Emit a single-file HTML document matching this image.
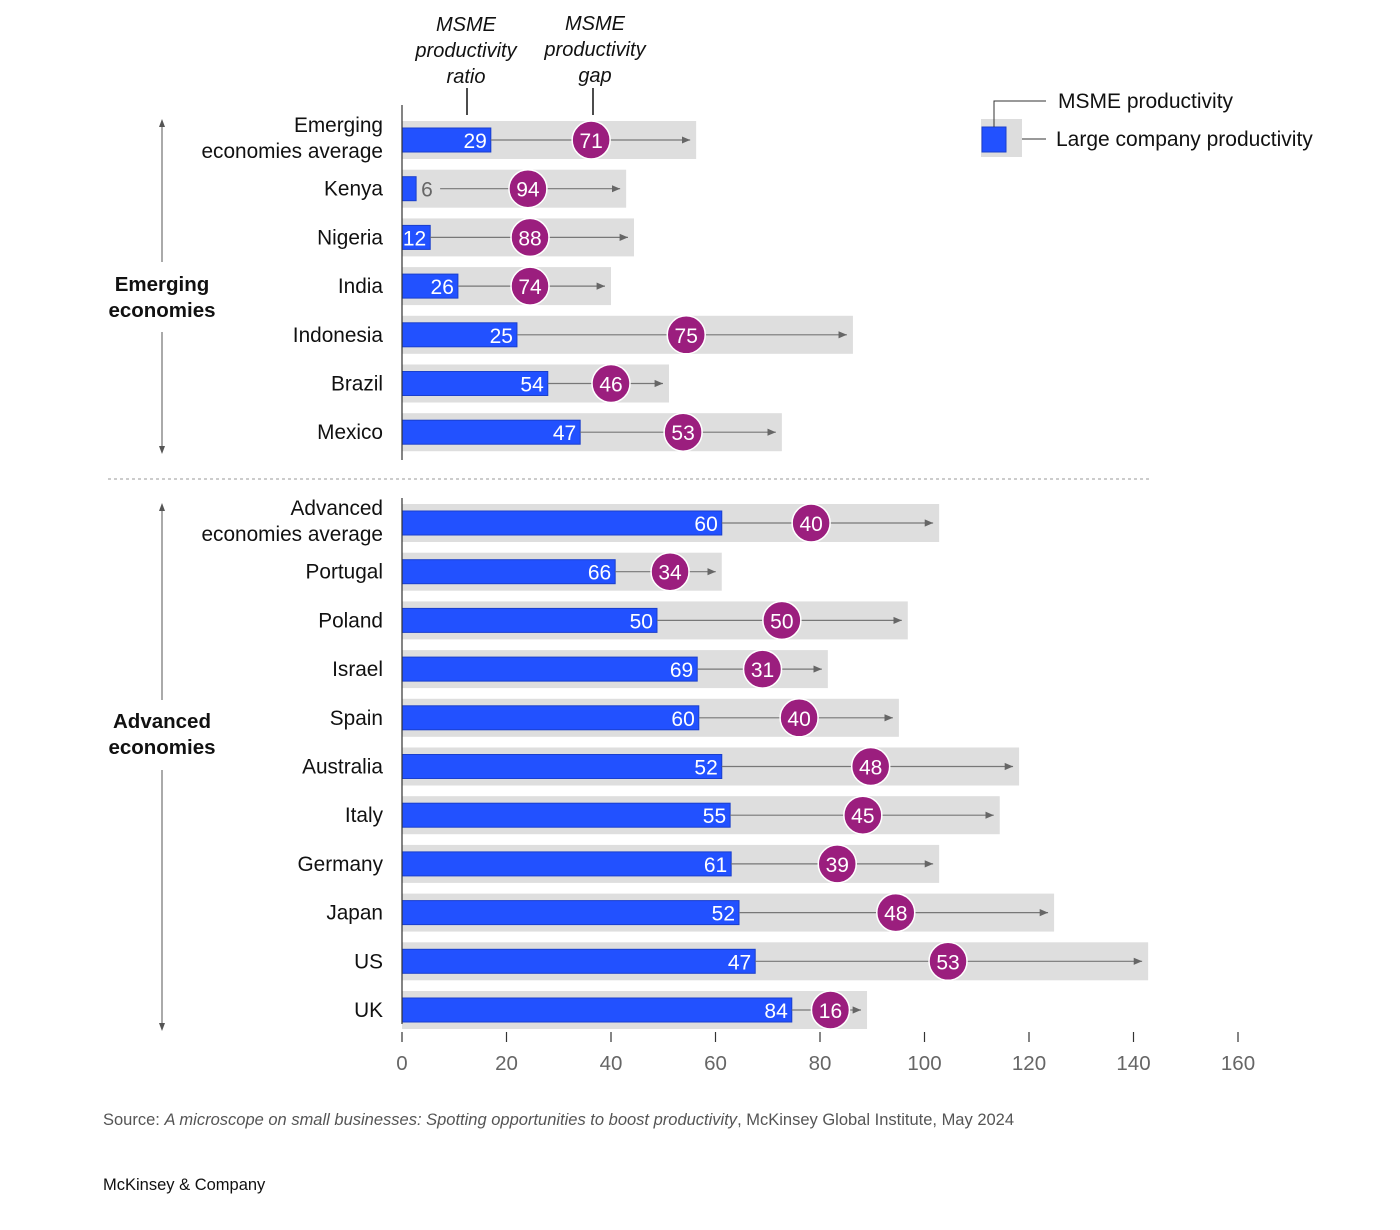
<!DOCTYPE html>
<html><head><meta charset="utf-8">
<style>
body{margin:0;background:#fff;font-family:"Liberation Sans",Arial,sans-serif;}
svg text{font-family:"Liberation Sans",Arial,sans-serif;}
</style></head>
<body>
<svg width="1400" height="1225" viewBox="0 0 1400 1225">
<defs><marker id="ah" markerWidth="8" markerHeight="8" refX="7" refY="4" orient="auto"><path d="M0,1 L7,4 L0,7Z" fill="#666"/></marker>
<marker id="ah2" markerWidth="10" markerHeight="10" refX="5" refY="5" orient="auto"><path d="M0,2 L8,5 L0,8Z" fill="#555"/></marker></defs>
<g id="chart"></g>
<text x="466" y="31" text-anchor="middle" font-size="20" font-style="italic" fill="#111"><tspan x="466">MSME</tspan><tspan x="466" dy="26">productivity</tspan><tspan x="466" dy="26">ratio</tspan></text>
<line x1="467" y1="88" x2="467" y2="115" stroke="#111" stroke-width="1.5"/>
<text x="595" y="30" text-anchor="middle" font-size="20" font-style="italic" fill="#111"><tspan x="595">MSME</tspan><tspan x="595" dy="26">productivity</tspan><tspan x="595" dy="26">gap</tspan></text>
<line x1="593" y1="88" x2="593" y2="115" stroke="#111" stroke-width="1.5"/>
<line x1="108" y1="479" x2="1150" y2="479" stroke="#999" stroke-dasharray="3,3"/>
<g>
<text x="162" y="291" text-anchor="middle" font-size="20.5" font-weight="bold" fill="#111">Emerging</text>
<text x="162" y="317" text-anchor="middle" font-size="20.5" font-weight="bold" fill="#111">economies</text>
<line x1="162" y1="262" x2="162" y2="122" stroke="#555" marker-end="url(#ah2)"/>
<line x1="162" y1="332" x2="162" y2="451" stroke="#555" marker-end="url(#ah2)"/>
</g>
<g>
<text x="162" y="728" text-anchor="middle" font-size="20.5" font-weight="bold" fill="#111">Advanced</text>
<text x="162" y="754" text-anchor="middle" font-size="20.5" font-weight="bold" fill="#111">economies</text>
<line x1="162" y1="700" x2="162" y2="506" stroke="#555" marker-end="url(#ah2)"/>
<line x1="162" y1="770" x2="162" y2="1028" stroke="#555" marker-end="url(#ah2)"/>
</g>
<g>
<rect x="981" y="119" width="41" height="38" fill="#ddd"/>
<rect x="982" y="127" width="24" height="25" fill="#2251ff" stroke="#1a3fcc"/>
<polyline points="994,127 994,101 1046,101" fill="none" stroke="#333"/>
<line x1="1022" y1="139" x2="1046" y2="139" stroke="#333"/>
<text x="1058" y="108" font-size="21" fill="#111">MSME productivity</text>
<text x="1056" y="146" font-size="21" fill="#111">Large company productivity</text>
</g>
<text x="103" y="1125" font-size="16.5" fill="#555">Source: <tspan font-style="italic">A microscope on small businesses: Spotting opportunities to boost productivity</tspan>, McKinsey Global Institute, May 2024</text>
<text x="103" y="1190" font-size="16.5" fill="#111">McKinsey &amp; Company</text>
</svg>
<script>
const countries=["Emerging economies average","Kenya","Nigeria","India","Indonesia","Brazil","Mexico","Advanced economies average","Portugal","Poland","Israel","Spain","Australia","Italy","Germany","Japan","US","UK"];
const largeValues=[56.3,42.9,44.4,40.0,86.3,51.1,72.7,102.8,61.2,96.8,81.5,95.1,118.1,114.4,102.8,124.8,142.8,89.0];
const msmeValues=[17.0,2.7,5.4,10.7,22.0,27.9,34.1,61.2,40.8,48.8,56.5,56.8,61.2,62.8,63.0,64.5,67.6,74.6];
const ratioLabels=[29,6,12,26,25,54,47,60,66,50,69,60,52,55,61,52,47,84];
const gapLabels=[71,94,88,74,75,46,53,40,34,50,31,40,48,45,39,48,53,16];
const gapMarkerPos=[36.2,24.1,24.5,24.5,54.4,40.0,53.8,78.3,51.3,72.7,69.0,76.0,89.7,88.2,83.3,94.5,104.5,82.0];
const ticks=[0,20,40,60,80,100,120,140,160];
const ns="http://www.w3.org/2000/svg";
const g=document.getElementById("chart");
const x=v=>402+v*5.225;
function rowY(i){return i<7?140+i*48.7:523+(i-7)*48.7;}
function mk(t,a,p){const e=document.createElementNS(ns,t);for(const k in a)e.setAttribute(k,a[k]);(p||g).appendChild(e);return e;}
countries.forEach((c,i)=>{
 const y=rowY(i);
 const row=mk("g",{});
 
 
 const gb=mk("rect",{x:x(0),y:y-19,width:x(largeValues[i])-x(0),height:38,fill:"#dedede"},row);
 
 
 const bb=mk("rect",{x:x(0),y:y-12,width:x(msmeValues[i])-x(0),height:24,fill:"#2251ff",stroke:"#1a3fcc"},row);
 
 
 const inside=(x(msmeValues[i])-x(0))>20;
 const startX=inside?Math.max(x(msmeValues[i]),x(0)+26):x(msmeValues[i])+24;
 mk("line",{x1:startX,y1:y,x2:x(largeValues[i])-6,y2:y,stroke:"#777","stroke-width":1.2,"marker-end":"url(#ah)"},row);
 const rl=mk("text",{x:inside?Math.max(x(msmeValues[i])-4,x(0)+24):x(msmeValues[i])+5,y:y+8,"font-size":21,fill:inside?"#fff":"#666","text-anchor":inside?"end":"start"},row);
 rl.textContent=ratioLabels[i];
 
 
 const cx=x(gapMarkerPos[i]);
 const ci=mk("circle",{cx:cx,cy:y,r:19,fill:"#9b1e7e",stroke:"#fff","stroke-width":1.5},row);
 
 
 const gl=mk("text",{x:cx,y:y+8,"font-size":21,fill:"#fff","text-anchor":"middle"},row);
 gl.textContent=gapLabels[i];
 
 
 const lines=c.endsWith("average")?[c.replace(" average","").replace(" economies",""),"economies average"]:[c];
 lines.forEach((ln,j)=>{
  const t=mk("text",{x:383,y:y+7+(lines.length>1?(j-0.5)*26-2:0),"font-size":20.8,fill:"#111","text-anchor":"end"},row);
  t.textContent=ln;
  
  
 });
});
mk("line",{x1:402,y1:105,x2:402,y2:460,stroke:"#333","stroke-width":1.2});
mk("line",{x1:402,y1:498,x2:402,y2:1024,stroke:"#333","stroke-width":1.2});
ticks.forEach(v=>{
 mk("line",{x1:x(v),y1:1032,x2:x(v),y2:1042,stroke:"#333","stroke-width":1.2});
 const t=mk("text",{x:x(v),y:1070,"font-size":20.5,fill:"#666","text-anchor":"middle"});
 t.textContent=v;
 
 
});
</script>
</body></html>
